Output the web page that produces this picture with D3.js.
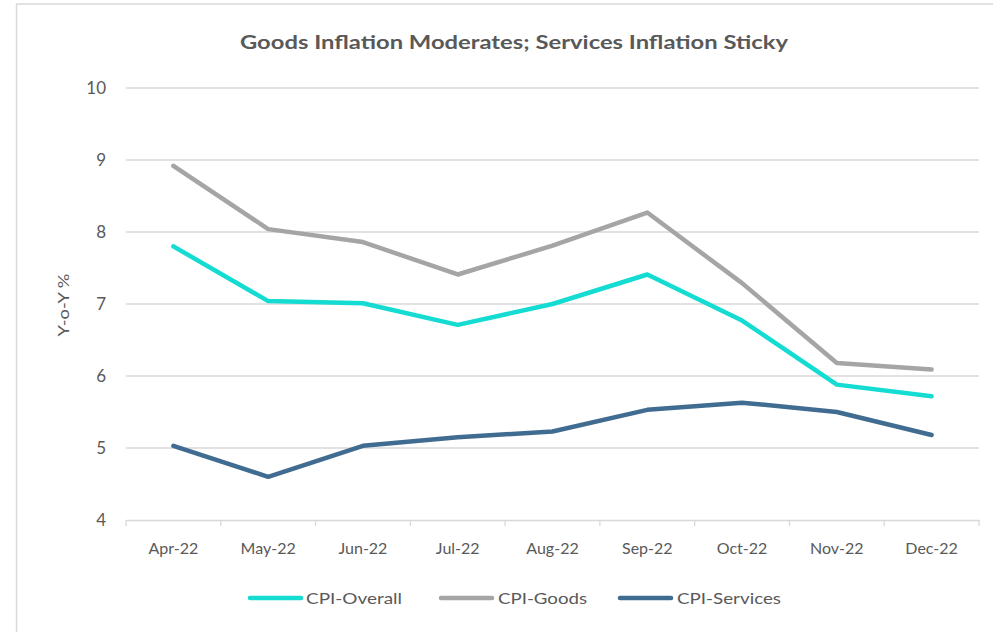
<!DOCTYPE html>
<html>
<head>
<meta charset="utf-8">
<script src="https://cdn.jsdelivr.net/npm/d3@7"></script>
<style>
  html, body { margin: 0; padding: 0; background: #fff; }
  svg { display: block; }
  text { font-family: "Lato", "Open Sans", sans-serif; }
</style>
</head>
<body>
<div id="chart"></div>
<script>
const categories = ["Apr-22","May-22","Jun-22","Jul-22","Aug-22","Sep-22","Oct-22","Nov-22","Dec-22"];
const cpiOverall  = [7.80, 7.04, 7.01, 6.71, 7.00, 7.41, 6.77, 5.88, 5.72];
const cpiGoods    = [8.92, 8.04, 7.86, 7.41, 7.81, 8.27, 7.29, 6.18, 6.09];
const cpiServices = [5.03, 4.60, 5.03, 5.15, 5.23, 5.53, 5.63, 5.50, 5.18];
const seriesNames = ["CPI-Overall","CPI-Goods","CPI-Services"];
const seriesColors = ["#14DCD2","#A5A5A5","#416C91"];
const yTicks = [4,5,6,7,8,9,10];
const titleText = "Goods Inflation Moderates; Services Inflation Sticky";
const yTitle = "Y-o-Y %";

const series = [cpiOverall, cpiGoods, cpiServices].map((v,i)=>({name:seriesNames[i], color:seriesColors[i], values:v}));

const W = 993, H = 632;
const plot = {left:126, right:979, top:88, bottom:520};

const svg = d3.select("#chart").append("svg").attr("width", W).attr("height", H);

// outer border
svg.append("rect").attr("x",16.5).attr("y",4).attr("width",W).attr("height",H)
  .attr("fill","none").attr("stroke","#D9D9D9").attr("stroke-width",1.5);

const x = d3.scaleBand().domain(categories).range([plot.left, plot.right]);
const y = d3.scaleLinear().domain([4,10]).range([plot.bottom, plot.top]);

// gridlines
svg.append("g").selectAll("line").data(yTicks.filter(t=>t>4)).join("line")
  .attr("x1",plot.left).attr("x2",plot.right)
  .attr("y1",d=>y(d)).attr("y2",d=>y(d))
  .attr("stroke","#D9D9D9").attr("stroke-width",1.3);

// y axis labels
const yAxis = d3.axisLeft(y).tickValues(yTicks).tickSize(0).tickPadding(0).tickFormat(d3.format("d"));
const gy = svg.append("g").attr("transform",`translate(${plot.left-20},0)`).call(yAxis);
gy.select(".domain").remove();
gy.selectAll("text").attr("fill","#595959").style("font-size","17px").attr("dy","0.35em");

// x axis
const xAxis = d3.axisBottom(x).tickSize(0).tickPadding(0);
const gx = svg.append("g").attr("transform",`translate(0,${plot.bottom})`).call(xAxis);
gx.select(".domain").attr("stroke","#D9D9D9").attr("stroke-width",1.3);
gx.selectAll("text").attr("fill","#595959").style("font-size","16px").attr("y",28).attr("dy","0.35em");
// category boundary ticks
const bounds = categories.map(c=>x(c)).concat([plot.right]);
svg.append("g").selectAll("line").data(bounds).join("line")
  .attr("x1",d=>d).attr("x2",d=>d).attr("y1",plot.bottom).attr("y2",plot.bottom+6)
  .attr("stroke","#D9D9D9").attr("stroke-width",1.3);

// lines
const line = d3.line().x((d,i)=>x(categories[i]) + x.bandwidth()/2).y(d=>y(d));
svg.append("g").selectAll("path").data(series).join("path")
  .attr("d",d=>line(d.values)).attr("fill","none")
  .attr("stroke",d=>d.color).attr("stroke-width",4.5)
  .attr("stroke-linejoin","round").attr("stroke-linecap","round");

// title
svg.append("text").attr("x",514).attr("y",49).attr("text-anchor","middle")
  .attr("fill","#595959").style("font-size","19px").style("font-weight","bold")
  .attr("textLength",548).attr("lengthAdjust","spacingAndGlyphs").text(titleText);

// y title
svg.append("text").attr("transform","translate(69,305) rotate(-90)").attr("text-anchor","middle")
  .attr("fill","#595959").style("font-size","16px")
  .attr("textLength",63).attr("lengthAdjust","spacingAndGlyphs").text(yTitle);

// legend
const legendItems = [
  {lx:248, tx:306, tw:96},
  {lx:439, tx:498, tw:89},
  {lx:618, tx:677, tw:104}
];
const lg = svg.append("g");
series.forEach((s,i)=>{
  const L = legendItems[i];
  lg.append("line").attr("x1",L.lx+2).attr("x2",L.lx+53).attr("y1",598).attr("y2",598)
    .attr("stroke",s.color).attr("stroke-width",4.5).attr("stroke-linecap","round");
  lg.append("text").attr("x",L.tx).attr("y",598).attr("dy","0.35em")
    .attr("fill","#595959").style("font-size","16px")
    .attr("textLength",L.tw).attr("lengthAdjust","spacingAndGlyphs").text(s.name);
});
</script>
</body>
</html>
